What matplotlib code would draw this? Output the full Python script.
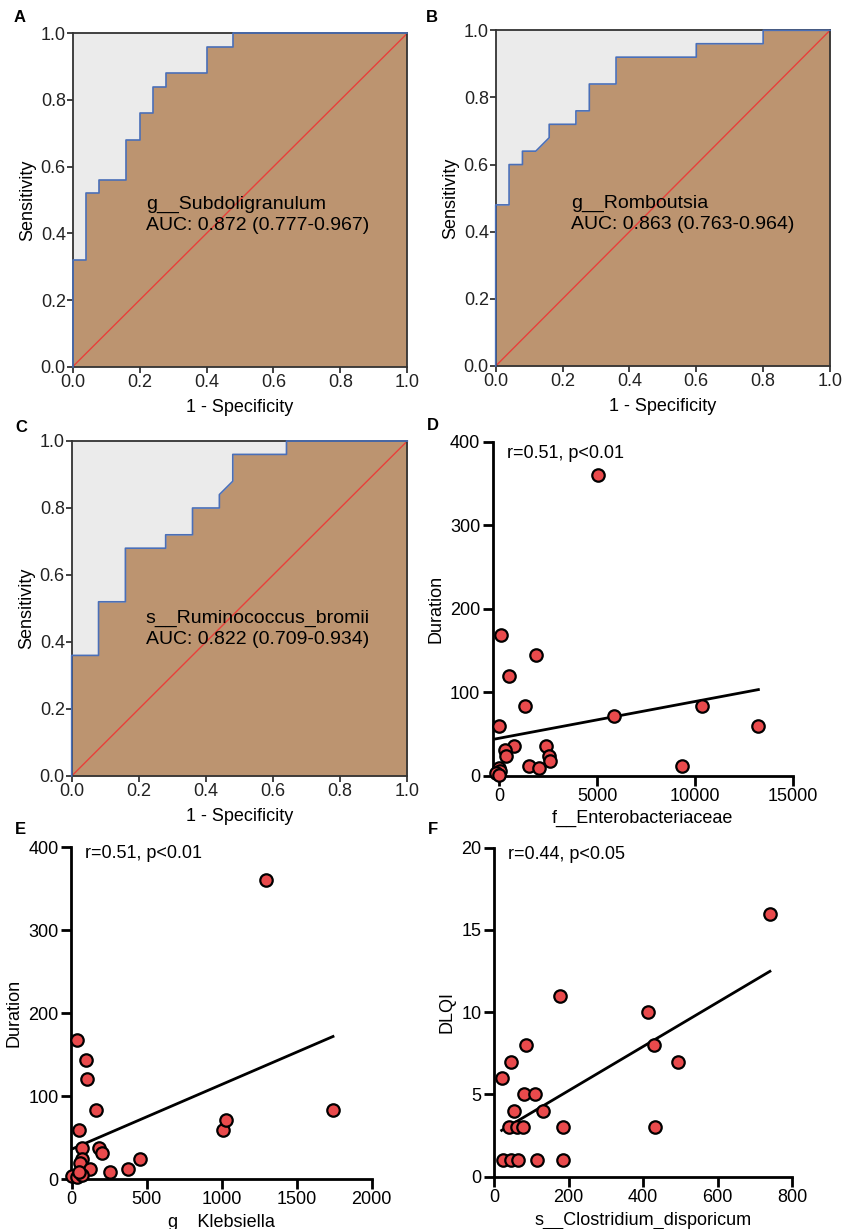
import numpy as np
import matplotlib
matplotlib.use("Agg")
import matplotlib.pyplot as plt

plt.rcParams['font.family'] = ['Liberation Sans', 'DejaVu Sans']

# ---------------- ROC data (1 - specificity, sensitivity) ----------------
roc_a_fpr = [0, 0, 0.04, 0.04, 0.08, 0.08, 0.16, 0.16, 0.20, 0.20, 0.24, 0.24, 0.28, 0.28, 0.40, 0.40, 0.48, 0.48, 1.0]
roc_a_tpr = [0, 0.32, 0.32, 0.52, 0.52, 0.56, 0.56, 0.68, 0.68, 0.76, 0.76, 0.84, 0.84, 0.88, 0.88, 0.96, 0.96, 1.0, 1.0]
roc_a_name = "g__Subdoligranulum"
roc_a_auc = "AUC: 0.872 (0.777-0.967)"

roc_b_fpr = [0, 0, 0.04, 0.04, 0.08, 0.08, 0.12, 0.16, 0.16, 0.24, 0.24, 0.28, 0.28, 0.36, 0.36, 0.60, 0.60, 0.80, 0.80, 1.0]
roc_b_tpr = [0, 0.48, 0.48, 0.60, 0.60, 0.64, 0.64, 0.68, 0.72, 0.72, 0.76, 0.76, 0.84, 0.84, 0.92, 0.92, 0.96, 0.96, 1.0, 1.0]
roc_b_name = "g__Romboutsia"
roc_b_auc = "AUC: 0.863 (0.763-0.964)"

roc_c_fpr = [0, 0, 0.08, 0.08, 0.16, 0.16, 0.28, 0.28, 0.36, 0.36, 0.44, 0.44, 0.48, 0.48, 0.64, 0.64, 1.0]
roc_c_tpr = [0, 0.36, 0.36, 0.52, 0.52, 0.68, 0.68, 0.72, 0.72, 0.80, 0.80, 0.84, 0.88, 0.96, 0.96, 1.0, 1.0]
roc_c_name = "s__Ruminococcus_bromii"
roc_c_auc = "AUC: 0.822 (0.709-0.934)"

# ---------------- correlation data ----------------
d_x = [5054, 107, 1857, 500, 1321, 0, 5875, 10375, 13232, 768, 286, 339, 2375, 2518, 2607,
       1518, 2000, 9339, 0, 54, -196, 0]
d_y = [360, 168.5, 144.5, 120, 84, 60, 72, 84, 60, 36, 31, 23.5, 36, 23.5, 18,
       11.6, 8.8, 11.6, 9, 6, 2.8, 1]
d_fit = [44.9, 0.0044]  # intercept, slope
d_text = "r=0.51, p<0.01"

e_x = [1293, 33, 96, 104, 162, 47, 1007, 1029, 1742, 71, 180, 200, 71, 456, 56,
       124, 373, 253, 0, 38, 67, 49]
e_y = [360.6, 168, 144, 120, 83.6, 59.5, 59.5, 71.6, 83.6, 37, 37, 31, 24, 24, 19,
       12, 12, 9, 4, 3, 5, 9]
e_fit = [36.0, 0.078]
e_text = "r=0.51, p<0.01"

f_x = [740, 176, 413, 430, 86, 493, 45, 20.5, 80, 111, 53.5, 131, 40, 62, 77, 185, 432,
       24, 46, 65, 114, 185]
f_y = [16, 11, 10, 8, 8, 7, 7, 6, 5, 5, 4, 4, 3, 3, 3, 3, 3,
       1, 1, 1, 1, 1]
f_fit = [2.54, 0.01344]
f_text = "r=0.44, p<0.05"

W, H = 845, 1229
fig = plt.figure(figsize=(W / 100, H / 100), dpi=100)


def box(l, r, t, b):
    return [l / W, 1 - b / H, (r - l) / W, (b - t) / H]


def roc_panel(rect, fpr, tpr, name, auc, tx, ty):
    ax = fig.add_axes(rect)
    ax.set_facecolor('#ebebeb')
    ax.fill_between(fpr, 0, tpr, color='#bc9470', lw=0, zorder=1)
    ax.plot(fpr, tpr, color='#4a6fb8', lw=1.2, zorder=3, clip_on=False)
    ax.plot([0, 1], [0, 1], color='#e8403a', lw=1.0, zorder=2)
    ax.set_xlim(0, 1)
    ax.set_ylim(0, 1)
    ticks = [0.0, 0.2, 0.4, 0.6, 0.8, 1.0]
    ax.set_xticks(ticks)
    ax.set_yticks(ticks)
    ax.set_xticklabels([f"{t:.1f}" for t in ticks])
    ax.set_yticklabels([f"{t:.1f}" for t in ticks])
    ax.tick_params(direction='out', length=4, width=1.2, labelsize=13, colors='#222222', pad=1)
    for s in ax.spines.values():
        s.set_color('#333333')
        s.set_linewidth(1.3)
    ax.set_xlabel("1 - Specificity", fontsize=13, labelpad=6)
    ax.set_ylabel("Sensitivity", fontsize=13, labelpad=3)
    ax.text(tx, ty, name + "\n" + auc, transform=ax.transAxes, fontsize=14,
            va='center', ha='left', linespacing=1.3, zorder=5)
    return ax


def scatter_panel(rect, x, y, fit, txt, xlim, ylim, xticks, yticks, xlabel, ylabel, tpos, xpad):
    ax = fig.add_axes(rect)
    xs = np.array([min(x), max(x)])
    ax.plot(xs, fit[0] + fit[1] * xs, color='black', lw=2, zorder=2)
    ax.scatter(x, y, s=80, facecolor='#e94a4c', edgecolor='black', linewidth=1.6,
               zorder=3, clip_on=False)
    ax.set_xlim(*xlim)
    ax.set_ylim(*ylim)
    ax.set_xticks(xticks)
    ax.set_yticks(yticks)
    ax.spines['top'].set_visible(False)
    ax.spines['right'].set_visible(False)
    for s in ('left', 'bottom'):
        ax.spines[s].set_linewidth(2)
    ax.tick_params(direction='out', length=7, width=2, labelsize=13, pad=2)
    ax.set_xlabel(xlabel, fontsize=13, labelpad=xpad)
    ax.set_ylabel(ylabel, fontsize=13, labelpad=4)
    ax.text(tpos[0], tpos[1], txt, transform=ax.transAxes, fontsize=13, va='center', ha='left')
    return ax


roc_panel(box(72.7, 407.3, 33.3, 366.7), roc_a_fpr, roc_a_tpr, roc_a_name, roc_a_auc, 0.219, 0.455)
roc_panel(box(495.7, 830, 30.3, 366), roc_b_fpr, roc_b_tpr, roc_b_name, roc_b_auc, 0.225, 0.452)
roc_panel(box(71.7, 407.3, 441, 776), roc_c_fpr, roc_c_tpr, roc_c_name, roc_c_auc, 0.221, 0.438)

scatter_panel(box(492.7, 793, 441.7, 775.7), d_x, d_y, d_fit, d_text,
              (-340, 15000), (0, 400), [0, 5000, 10000, 15000], [0, 100, 200, 300, 400],
              "f__Enterobacteriaceae", "Duration", (0.047, 0.965), 3)
scatter_panel(box(71, 371.7, 847.3, 1179), e_x, e_y, e_fit, e_text,
              (-5, 2000), (0, 400), [0, 500, 1000, 1500, 2000], [0, 100, 200, 300, 400],
              "g__Klebsiella", "Duration", (0.048, 0.98), 4)
scatter_panel(box(494, 792.3, 847.7, 1176.7), f_x, f_y, f_fit, f_text,
              (0, 800), (0, 20), [0, 200, 400, 600, 800], [0, 5, 10, 15, 20],
              "s__Clostridium_disporicum", "DLQI", (0.048, 0.98), 4)

for lab, px, py in [("A", 20, 17), ("B", 432, 17), ("C", 21, 427), ("D", 433, 426),
                    ("E", 20, 830), ("F", 433, 830)]:
    fig.text(px / W, 1 - py / H, lab, fontsize=12, fontweight='bold', ha='center', va='center')

fig.savefig("out.png", dpi=100)
